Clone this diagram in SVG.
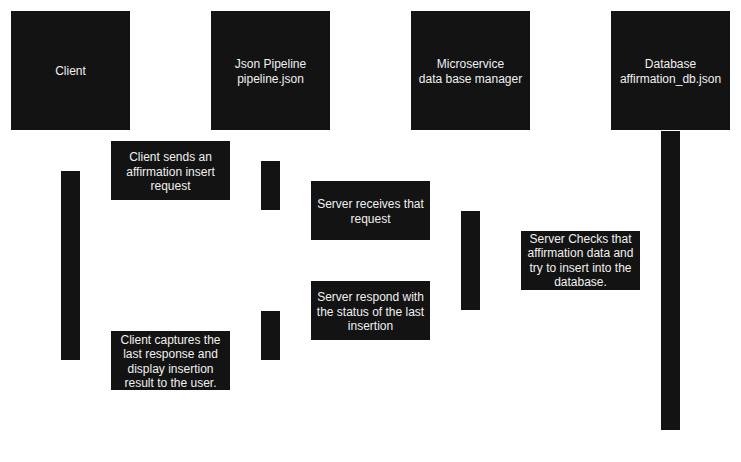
<svg xmlns="http://www.w3.org/2000/svg" width="741" height="462" viewBox="0 0 741 462">
<style>
.box{fill:#131313}
.t{fill:#f0f0f0;font-family:"Liberation Sans",Arial,sans-serif;font-size:12px;text-anchor:middle}
</style>
<rect width="741" height="462" fill="#ffffff"/>
<g id="client">
<rect class="box" x="11" y="11" width="119" height="119"/>
<text class="t" x="70.5" y="74.5">Client</text>
</g>
<g id="pipeline">
<rect class="box" x="211" y="11" width="119" height="119"/>
<text class="t" x="270.5" y="68">Json Pipeline</text>
<text class="t" x="270.5" y="83">pipeline.json</text>
</g>
<g id="microservice">
<rect class="box" x="411" y="11" width="119" height="119"/>
<text class="t" x="470.5" y="68">Microservice</text>
<text class="t" x="470.5" y="83">data base manager</text>
</g>
<g id="database">
<rect class="box" x="611" y="11" width="119" height="119"/>
<text class="t" x="670.5" y="68">Database</text>
<text class="t" x="670.5" y="83">affirmation_db.json</text>
</g>
<g id="client-activation"><rect class="box" x="61" y="171" width="19" height="189"/></g>
<g id="pipeline-activation-1"><rect class="box" x="261" y="161" width="19" height="49"/></g>
<g id="pipeline-activation-2"><rect class="box" x="261" y="311" width="19" height="49"/></g>
<g id="microservice-activation"><rect class="box" x="461" y="211" width="19" height="99"/></g>
<g id="database-activation"><rect class="box" x="661" y="131" width="19" height="299"/></g>
<g id="msg-send">
<rect class="box" x="111" y="141" width="119" height="59"/>
<text class="t" x="170.5" y="161">Client sends an</text>
<text class="t" x="170.5" y="175.5">affirmation insert</text>
<text class="t" x="170.5" y="190">request</text>
</g>
<g id="msg-receive">
<rect class="box" x="311" y="181" width="119" height="59"/>
<text class="t" x="370.5" y="208">Server receives that</text>
<text class="t" x="370.5" y="222.5">request</text>
</g>
<g id="msg-check">
<rect class="box" x="521" y="231" width="119" height="59"/>
<text class="t" x="580.5" y="242.5">Server Checks that</text>
<text class="t" x="580.5" y="257">affirmation data and</text>
<text class="t" x="580.5" y="271.5">try to insert into the</text>
<text class="t" x="580.5" y="286">database.</text>
</g>
<g id="msg-respond">
<rect class="box" x="311" y="281" width="119" height="59"/>
<text class="t" x="370.5" y="301">Server respond with</text>
<text class="t" x="370.5" y="315.5">the status of the last</text>
<text class="t" x="370.5" y="330">insertion</text>
</g>
<g id="msg-capture">
<rect class="box" x="111" y="331" width="119" height="59"/>
<text class="t" x="170.5" y="343.5">Client captures the</text>
<text class="t" x="170.5" y="358">last response and</text>
<text class="t" x="170.5" y="372.5">display insertion</text>
<text class="t" x="170.5" y="387">result to the user.</text>
</g>
</svg>
